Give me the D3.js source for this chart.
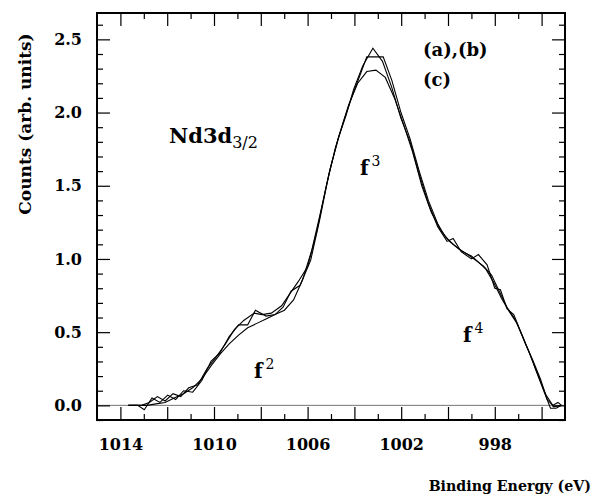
<!DOCTYPE html>
<html><head><meta charset="utf-8">
<script src="https://cdn.jsdelivr.net/npm/d3@7"></script>
<style>body{margin:0;background:#fff}svg{display:block}text{font-family:"DejaVu Serif",serif;fill:#000}</style>
</head><body><svg id="c" width="598" height="502"></svg>
<script>
// Curve (a): noisy, sharp peak
const energyA = [1013.66,1013.26,1012.98,1012.65,1012.31,1011.98,1011.64,1011.30,1010.91,1010.52,1010.13,1009.74,1009.35,1008.95,1008.56,1008.23,1007.78,1007.39,1007.05,1006.71,1006.32,1005.87,1005.48,1005.09,1004.70,1004.36,1004.03,1003.64,1003.21,1002.80,1002.40,1002.01,1001.62,1001.23,1000.84,1000.44,1000.04,999.78,999.44,999.00,998.70,998.33,998.00,997.76,997.48,997.19,996.86,996.52,996.24,995.91,995.62,995.38,995.15];
const countsA = [0,0,-0.03,0.05,0.02,0.07,0.04,0.10,0.09,0.17,0.30,0.36,0.47,0.55,0.55,0.65,0.61,0.62,0.67,0.78,0.82,0.99,1.27,1.58,1.82,1.98,2.16,2.32,2.44,2.35,2.17,1.96,1.80,1.58,1.38,1.22,1.12,1.14,1.05,1.00,1.03,0.96,0.80,0.79,0.66,0.62,0.49,0.36,0.24,0.10,-0.02,-0.02,0];
// Curve (b): noisy, flat top
const energyB = [1013.66,1013.10,1012.76,1012.42,1012.09,1011.75,1011.42,1011.08,1010.69,1010.30,1009.91,1009.51,1009.12,1008.73,1008.28,1007.95,1007.55,1007.11,1006.77,1006.38,1005.99,1005.59,1005.20,1004.81,1004.42,1004.08,1003.75,1003.47,1002.77,1002.40,1002.01,1001.62,1001.23,1000.84,1000.44,1000.11,999.77,999.38,999.00,998.71,998.38,998.05,997.71,997.38,997.05,996.72,996.38,996.05,995.76,995.53,995.30,995.15];
const countsB = [0,0,0.02,0.06,0.03,0.08,0.06,0.12,0.14,0.25,0.33,0.42,0.52,0.58,0.63,0.62,0.63,0.68,0.76,0.85,0.95,1.20,1.50,1.76,1.96,2.12,2.26,2.38,2.38,2.22,2.00,1.82,1.60,1.40,1.24,1.15,1.10,1.05,1.02,0.98,0.93,0.84,0.73,0.64,0.56,0.43,0.31,0.18,0.04,0,0.02,0];
// Curve (c): smooth
const energyC = [1013.66,1013.26,1012.87,1012.48,1012.09,1011.70,1011.30,1010.91,1010.52,1010.13,1009.74,1009.35,1008.95,1008.56,1008.17,1007.78,1007.39,1006.99,1006.60,1006.21,1005.82,1005.43,1005.03,1004.64,1004.25,1003.86,1003.47,1003.08,1002.68,1002.29,1001.90,1001.51,1001.12,1000.72,1000.33,999.94,999.55,999.16,998.81,998.48,998.14,997.81,997.48,997.14,996.81,996.48,996.14,995.81,995.48,995.15];
const countsC = [0,0,0,0.01,0.02,0.05,0.08,0.12,0.18,0.27,0.35,0.42,0.48,0.53,0.56,0.59,0.62,0.65,0.72,0.86,1.06,1.33,1.62,1.85,2.05,2.20,2.28,2.29,2.24,2.10,1.92,1.73,1.50,1.32,1.20,1.12,1.07,1.03,0.99,0.95,0.89,0.78,0.67,0.59,0.47,0.34,0.20,0.07,-0.01,0];

const xLabelTicks = [1014,1010,1006,1002,998];
const xMajorTicks = [1014,1012,1010,1008,1006,1004,1002,1000,998,996];
const xMinorTicks = [1013,1011,1009,1007,1005,1003,1001,999,997];
const yMajorTicks = [0,0.5,1.0,1.5,2.0,2.5];
const yMinorTicks = [-0.1,0.1,0.2,0.3,0.4,0.6,0.7,0.8,0.9,1.1,1.2,1.3,1.4,1.6,1.7,1.8,1.9,2.1,2.2,2.3,2.4,2.6];

const L=97,R=565,T=13,B=420;
const svg=d3.select("#c");
const x=d3.scaleLinear().domain([1015,995]).range([L,R]);
const y=d3.scaleLinear().domain([-0.1,2.68]).range([B,T]);

// zero line
svg.append("line").attr("x1",L).attr("x2",R).attr("y1",y(0)).attr("y2",y(0))
  .attr("stroke","#666").attr("stroke-width",0.9);

function axis(gen,tr,vals,size,labels,fmt,pad){
  const a=gen.tickValues(vals).tickSizeInner(-size).tickSizeOuter(0).tickPadding(pad||0);
  if(labels) a.tickFormat(fmt); else a.tickFormat("");
  const g=svg.append("g").attr("transform",tr).call(a);
  g.select(".domain").remove();
  g.selectAll(".tick line").attr("stroke","#000").attr("stroke-width",1.2);
  g.selectAll("text").style("font-family","DejaVu Serif").style("font-weight","bold").style("font-size","16px").attr("fill","#000");
  return g;
}
axis(d3.axisBottom(x),`translate(0,${B})`,xMajorTicks,13,false);
axis(d3.axisBottom(x),`translate(0,${B})`,xMinorTicks,6,false);
axis(d3.axisTop(x),`translate(0,${T})`,xMajorTicks,13,false);
axis(d3.axisTop(x),`translate(0,${T})`,xMinorTicks,6,false);
axis(d3.axisLeft(y),`translate(${L},0)`,yMajorTicks,13,true,d3.format(".1f"),15);
axis(d3.axisLeft(y),`translate(${L},0)`,yMinorTicks,6,false);
axis(d3.axisRight(y),`translate(${R},0)`,yMajorTicks,13,false);
axis(d3.axisRight(y),`translate(${R},0)`,yMinorTicks,6,false);
// x labels (every 4 eV)
const gl=svg.append("g").attr("transform",`translate(0,${B})`).call(d3.axisBottom(x).tickValues(xLabelTicks).tickSize(0).tickPadding(19).tickFormat(d3.format("d")));
gl.select(".domain").remove();
gl.selectAll("text").style("font-family","DejaVu Serif").style("font-weight","bold").style("font-size","16px").attr("fill","#000");

// curves
const line=d3.line().x(d=>x(d[0])).y(d=>y(d[1]));
[[energyA,countsA],[energyB,countsB],[energyC,countsC]].forEach(([e,c])=>{
  svg.append("path").datum(e.map((v,i)=>[v,c[i]])).attr("d",line)
    .attr("fill","none").attr("stroke","#000").attr("stroke-width",1.1).attr("stroke-linejoin","miter");
});

// frame
svg.append("rect").attr("x",L).attr("y",T).attr("width",R-L).attr("height",B-T)
  .attr("fill","none").attr("stroke","#000").attr("stroke-width",2);

// titles
svg.append("text").attr("transform","translate(31,124) rotate(-90)").attr("text-anchor","middle")
  .style("font-weight","bold").style("font-size","17px").text("Counts (arb. units)");
svg.append("text").attr("x",591).attr("y",491).attr("text-anchor","end")
  .style("font-weight","bold").style("font-size","14.2px").text("Binding Energy (eV)");

// annotations
const nd=svg.append("text").attr("x",169).attr("y",143).style("font-size","21px");
nd.append("tspan").style("font-weight","bold").text("Nd3d");
nd.append("tspan").attr("dy",5).style("font-size","16px").text("3/2");

function fLabel(xp,yp,sup){
  const t=svg.append("text").attr("x",xp).attr("y",yp).style("font-size","20px");
  t.append("tspan").style("font-weight","bold").text("f");
  t.append("tspan").attr("dx",3).attr("dy",-9).style("font-size","14px").text(sup);
}
fLabel(360,175,"3");
fLabel(254,378,"2");
fLabel(463,342,"4");

svg.append("text").attr("x",423).attr("y",56).style("font-weight","bold").style("font-size","18px").text("(a),(b)");
svg.append("text").attr("x",423).attr("y",86).style("font-weight","bold").style("font-size","18px").text("(c)");
</script></body></html>
